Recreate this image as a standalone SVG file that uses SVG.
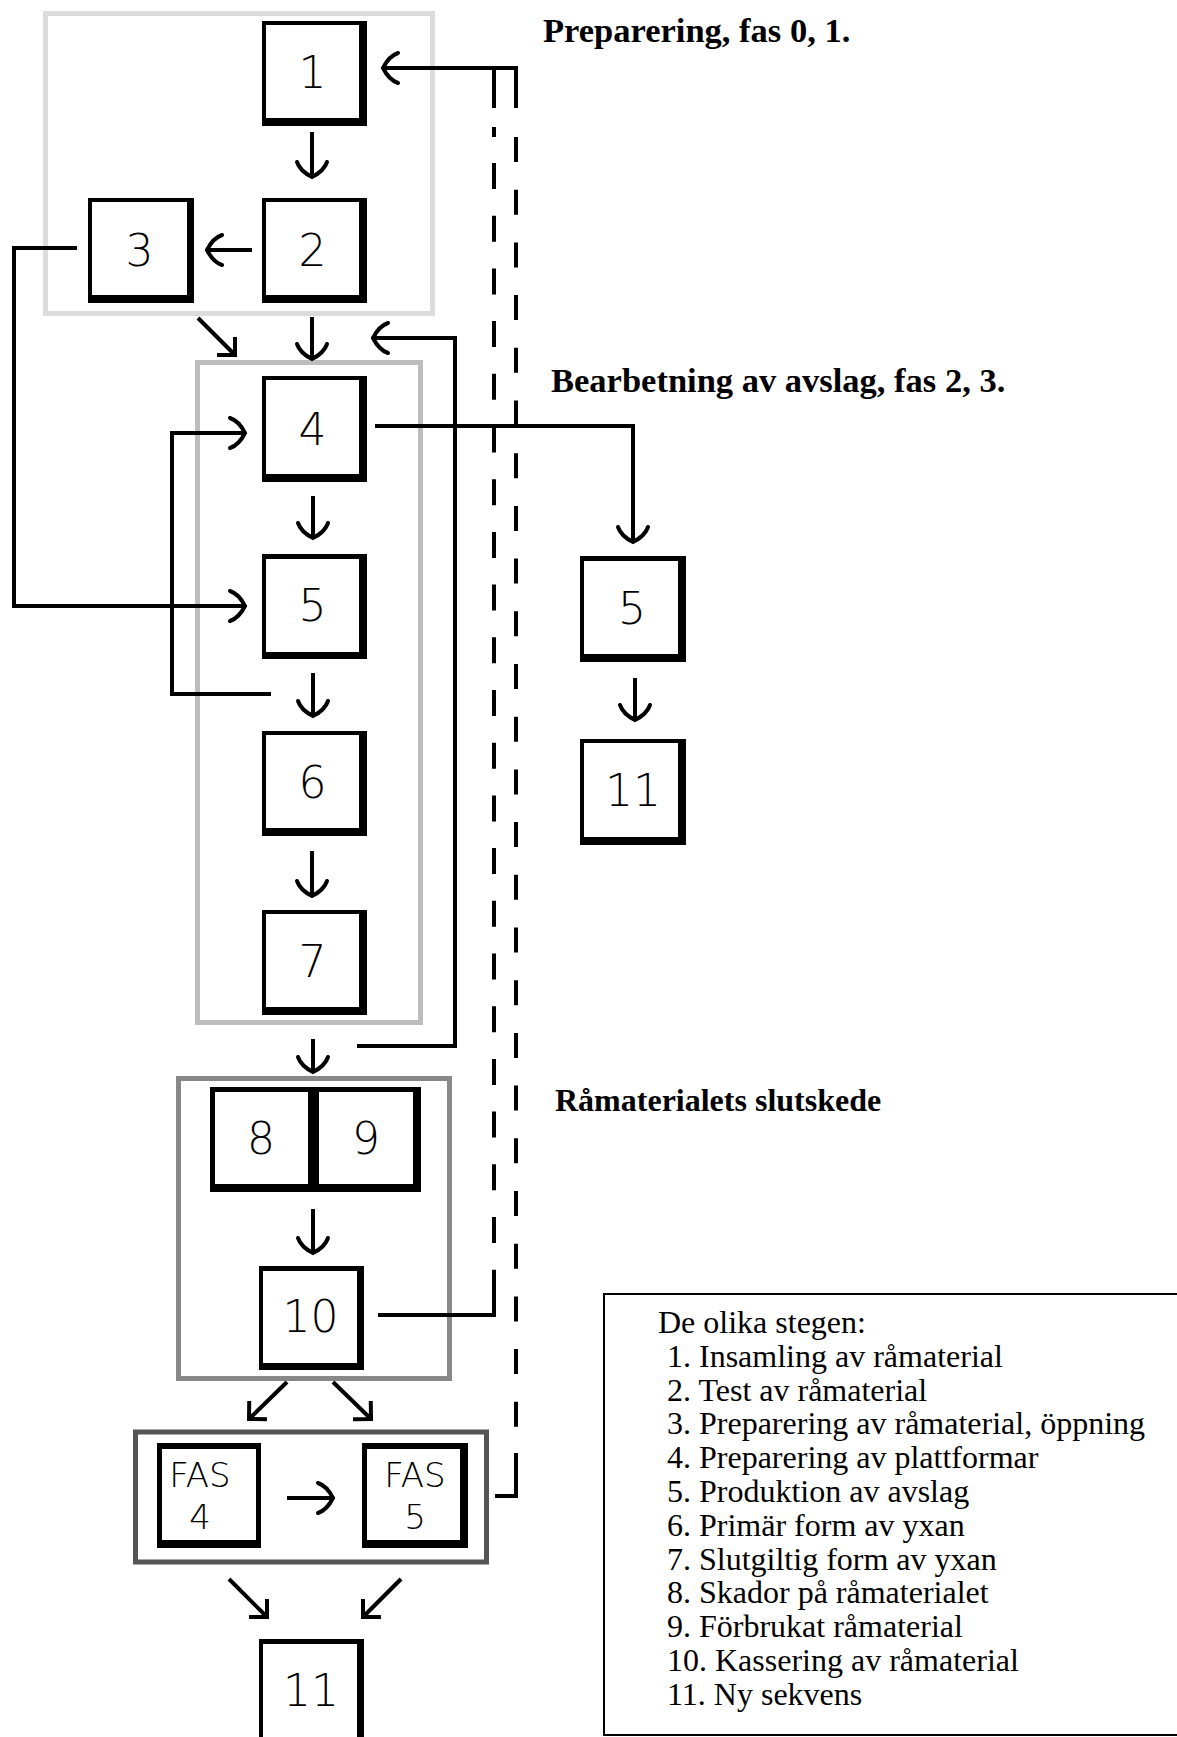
<svg xmlns="http://www.w3.org/2000/svg" width="1177" height="1737" viewBox="0 0 1177 1737">
<defs>
<style>
.bo{fill:#000}
.bi{fill:#fff}
.lbl{font-family:"DejaVu Sans","Liberation Sans",sans-serif;font-size:44px;font-weight:200;text-anchor:middle;fill:#000}
.fas{font-size:34px}
.hd{font-family:"Liberation Serif",serif;font-weight:bold;font-size:32px;fill:#000}
.hdl{font-size:34.5px}
.lg{font-family:"Liberation Serif",serif;font-size:32px;fill:#000}
.c{fill:none;stroke:#000;stroke-width:4}
.grp{fill:none;stroke-width:5}
</style>
<marker id="ah" markerUnits="userSpaceOnUse" markerWidth="40" markerHeight="40" viewBox="-20 -20 40 40" refX="0" refY="0" orient="auto" overflow="visible">
<path d="M-15,-15 Q-6,-12 0,0 Q-6,12 -15,15" fill="none" stroke="#000" stroke-width="4" stroke-linecap="round"/>
</marker>
<marker id="dh" markerUnits="userSpaceOnUse" markerWidth="40" markerHeight="40" viewBox="-20 -20 40 40" refX="0" refY="0" orient="auto" overflow="visible">
<path d="M-12.7,-12.7 L0,0 L-12.7,12.7" fill="none" stroke="#000" stroke-width="4" stroke-linejoin="miter"/>
</marker>
</defs>
<rect width="1177" height="1737" fill="#fff"/>

<g id="groups">
<rect id="g-prep" class="grp" x="45.5" y="13.5" width="387" height="300" stroke="#dcdcdc"/>
<rect id="g-bearb" class="grp" x="197.5" y="362.5" width="223" height="660" stroke="#bdbdbd"/>
<rect id="g-slut" class="grp" x="178.5" y="1078.5" width="271" height="300" stroke="#888"/>
<rect id="g-fas" class="grp" x="135.5" y="1432" width="351" height="130" stroke="#555"/>
</g>

<g id="connectors">
<path class="c" d="M312,132 V177" marker-end="url(#ah)"/>
<path class="c" d="M252,250 H207" marker-end="url(#ah)"/>
<path class="c" d="M77,248 H14 V606 H245" marker-end="url(#ah)"/>
<path class="c" d="M198,318 L235,355" marker-end="url(#dh)"/>
<path class="c" d="M312,317 V359" marker-end="url(#ah)"/>
<path class="c" d="M357,1046 H455 V338 H373" marker-end="url(#ah)"/>
<path class="c" d="M271,694 H172 V433 H245" marker-end="url(#ah)"/>
<path class="c" d="M313,496 V538" marker-end="url(#ah)"/>
<path class="c" d="M313,673 V716" marker-end="url(#ah)"/>
<path class="c" d="M312,851 V896" marker-end="url(#ah)"/>
<path class="c" d="M313,1039 V1072" marker-end="url(#ah)"/>
<path class="c" d="M313,1209 V1253" marker-end="url(#ah)"/>
<path class="c" d="M375,426 H633 V542" marker-end="url(#ah)"/>
<path class="c" d="M635,678 V720" marker-end="url(#ah)"/>
<path class="c" d="M287,1382 L249,1419" marker-end="url(#dh)"/>
<path class="c" d="M333,1382 L371,1419" marker-end="url(#dh)"/>
<path class="c" d="M287,1498 H333" marker-end="url(#ah)"/>
<path class="c" d="M229,1579 L267,1617" marker-end="url(#dh)"/>
<path class="c" d="M401,1579 L363,1617" marker-end="url(#dh)"/>
<path class="c" d="M516,108 V68 H383" marker-end="url(#ah)"/>
<path class="c" d="M494,68 V108"/>
<path class="c" d="M494,127 V137"/>
<path class="c" d="M494,163 V1273" stroke-dasharray="26 26.7"/>
<path class="c" d="M494,1271 V1315 H378"/>
<path class="c" d="M516,137 V1453" stroke-dasharray="25 27.7"/>
<path class="c" d="M516,1453 V1496 H495"/>
</g>

<g id="n1"><rect class="bo" x="262" y="21" width="105" height="105"/><rect class="bi" x="266" y="25" width="93" height="93"/><text class="lbl" x="312.5" y="88">1</text></g>
<g id="n2"><rect class="bo" x="262" y="198" width="105" height="105"/><rect class="bi" x="266" y="202" width="93" height="93"/><text class="lbl" x="312.5" y="266">2</text></g>
<g id="n3"><rect class="bo" x="88" y="198" width="106" height="105"/><rect class="bi" x="92" y="202" width="95" height="93"/><text class="lbl" x="139.5" y="266">3</text></g>
<g id="n4"><rect class="bo" x="262" y="376" width="105" height="106"/><rect class="bi" x="266" y="380" width="93" height="94"/><text class="lbl" x="312.5" y="445">4</text></g>
<g id="n5"><rect class="bo" x="262" y="554" width="105" height="105"/><rect class="bi" x="266" y="559" width="93" height="93"/><text class="lbl" x="312.5" y="621">5</text></g>
<g id="n6"><rect class="bo" x="262" y="731" width="105" height="105"/><rect class="bi" x="266" y="735" width="93" height="93"/><text class="lbl" x="312.5" y="798">6</text></g>
<g id="n7"><rect class="bo" x="262" y="910" width="105" height="105"/><rect class="bi" x="266" y="914" width="93" height="93"/><text class="lbl" x="312.5" y="977">7</text></g>
<g id="n8"><rect class="bo" x="210" y="1087" width="106" height="105"/><rect class="bi" x="215" y="1092" width="93" height="92"/><text class="lbl" x="261" y="1154">8</text></g>
<g id="n9"><rect class="bo" x="315" y="1087" width="106" height="105"/><rect class="bi" x="319" y="1092" width="94" height="92"/><text class="lbl" x="366" y="1154">9</text></g>
<g id="n10"><rect class="bo" x="259" y="1266" width="105" height="104"/><rect class="bi" x="263" y="1271" width="94" height="92"/><text class="lbl" x="310.5" y="1332">10</text></g>
<g id="fas4"><rect class="bo" x="157" y="1443" width="104" height="105"/><rect class="bi" x="162" y="1449" width="94" height="91"/><text class="lbl fas" x="200" y="1487">FAS</text><text class="lbl fas" x="200" y="1529">4</text></g>
<g id="fas5"><rect class="bo" x="362" y="1443" width="106" height="105"/><rect class="bi" x="367" y="1449" width="93" height="91"/><text class="lbl fas" x="415" y="1487">FAS</text><text class="lbl fas" x="415" y="1529">5</text></g>
<g id="n11"><rect class="bo" x="259" y="1639" width="105" height="110"/><rect class="bi" x="263" y="1644" width="94" height="110"/><text class="lbl" x="311" y="1706">11</text></g>
<g id="n5b"><rect class="bo" x="580" y="556" width="106" height="106"/><rect class="bi" x="584" y="561" width="94" height="93"/><text class="lbl" x="632" y="624">5</text></g>
<g id="n11b"><rect class="bo" x="580" y="739" width="106" height="106"/><rect class="bi" x="584" y="743" width="94" height="94"/><text class="lbl" x="633" y="806">11</text></g>

<g id="headings">
<text class="hd hdl" x="543" y="42">Preparering, fas 0, 1.</text>
<text class="hd hdl" x="551" y="392">Bearbetning av avslag, fas 2, 3.</text>
<text class="hd" x="555" y="1111">Råmaterialets slutskede</text>
</g>

<g id="legend">
<rect x="604" y="1294" width="640" height="441" fill="none" stroke="#000" stroke-width="2"/>
<text class="lg" x="658" y="1333">De olika stegen:</text>
<text class="lg" x="667" y="1367">1. Insamling av råmaterial</text>
<text class="lg" x="667" y="1401">2. Test av råmaterial</text>
<text class="lg" x="667" y="1434">3. Preparering av råmaterial, öppning</text>
<text class="lg" x="667" y="1468">4. Preparering av plattformar</text>
<text class="lg" x="667" y="1502">5. Produktion av avslag</text>
<text class="lg" x="667" y="1536">6. Primär form av yxan</text>
<text class="lg" x="667" y="1570">7. Slutgiltig form av yxan</text>
<text class="lg" x="667" y="1603">8. Skador på råmaterialet</text>
<text class="lg" x="667" y="1637">9. Förbrukat råmaterial</text>
<text class="lg" x="667" y="1671">10. Kassering av råmaterial</text>
<text class="lg" x="667" y="1705">11. Ny sekvens</text>
</g>
</svg>
